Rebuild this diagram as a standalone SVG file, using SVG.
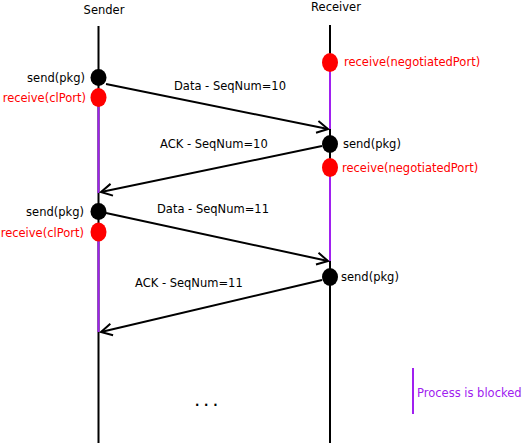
<svg xmlns="http://www.w3.org/2000/svg" width="528" height="447" viewBox="0 0 528 447">
<style>
text{font-family:"DejaVu Sans","Liberation Sans",sans-serif;font-size:11.5px;fill:#000}
.red{fill:#ff0000}
.pur{fill:#a020f0}
.life{stroke:#000;stroke-width:2;fill:none}
.blk{stroke:#a020f0;stroke-width:2;fill:none}
.msg{stroke:#000;stroke-width:2;fill:none;marker-end:url(#ah)}
.ev{fill:#000}
.evr{fill:#ff0000}
</style>
<defs>
<marker id="ah" markerUnits="userSpaceOnUse" markerWidth="16" markerHeight="16" viewBox="-14 -8 16 16" refX="0" refY="0" orient="auto">
<path d="M-11,-6 L0,0 L-11,6" fill="none" stroke="#000" stroke-width="2"/>
</marker>
</defs>
<rect width="528" height="447" fill="#fff"/>
<g id="sender">
<text x="104" y="14" text-anchor="middle">Sender</text>
<line class="life" x1="98.5" y1="26" x2="98.5" y2="443"/>
<line class="blk" x1="98.5" y1="97" x2="98.5" y2="193"/>
<line class="blk" x1="98.5" y1="232" x2="98.5" y2="332"/>
</g>
<g id="receiver">
<text x="336" y="11" text-anchor="middle">Receiver</text>
<line class="life" x1="330" y1="25" x2="330" y2="443"/>
<line class="blk" x1="330" y1="62" x2="330" y2="129"/>
<line class="blk" x1="330" y1="167" x2="330" y2="261"/>
</g>
<g id="connectors">
<line class="msg" x1="106" y1="84" x2="328" y2="129"/>
<line class="msg" x1="322" y1="146" x2="101" y2="192"/>
<line class="msg" x1="106" y1="213" x2="328" y2="261"/>
<line class="msg" x1="322" y1="280" x2="101" y2="332"/>
</g>
<g id="labels">
<text x="174" y="90">Data - SeqNum=10</text>
<text x="160" y="148">ACK - SeqNum=10</text>
<text x="157" y="213">Data - SeqNum=11</text>
<text x="135" y="287">ACK - SeqNum=11</text>
</g>
<g id="s-send1"><ellipse class="ev" cx="98.5" cy="77.5" rx="8" ry="8.5"/><text x="85" y="82" text-anchor="end">send(pkg)</text></g>
<g id="s-recv1"><ellipse class="evr" cx="98.5" cy="97.5" rx="8" ry="9.5"/><text class="red" x="86" y="102" text-anchor="end">receive(clPort)</text></g>
<g id="s-send2"><ellipse class="ev" cx="98.5" cy="211.5" rx="8" ry="8.5"/><text x="84" y="216" text-anchor="end">send(pkg)</text></g>
<g id="s-recv2"><ellipse class="evr" cx="98.5" cy="232" rx="8" ry="9.5"/><text class="red" x="84" y="237" text-anchor="end">receive(clPort)</text></g>
<g id="r-recv1"><ellipse class="evr" cx="330" cy="62.5" rx="8" ry="9.5"/><text class="red" x="344" y="66">receive(negotiatedPort)</text></g>
<g id="r-send1"><ellipse class="ev" cx="330" cy="144" rx="8" ry="9"/><text x="343" y="148">send(pkg)</text></g>
<g id="r-recv2"><ellipse class="evr" cx="330" cy="167.5" rx="8" ry="9.5"/><text class="red" x="342" y="172">receive(negotiatedPort)</text></g>
<g id="r-send2"><ellipse class="ev" cx="330" cy="277" rx="8" ry="9"/><text x="341" y="281">send(pkg)</text></g>
<g id="ellipsis"><text x="195" y="406" letter-spacing="4.7" font-weight="bold">...</text></g>
<g id="legend">
<line x1="413" y1="368" x2="413" y2="414" stroke="#a020f0" stroke-width="2"/>
<text class="pur" x="417" y="397">Process is blocked</text>
</g>
</svg>
